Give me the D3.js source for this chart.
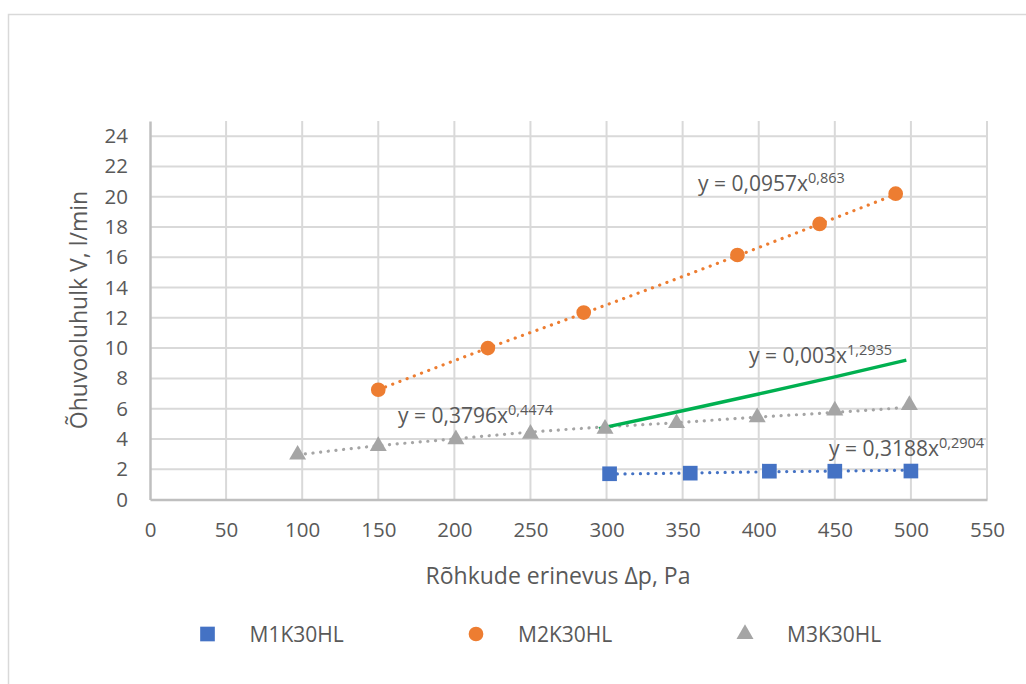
<!DOCTYPE html>
<html>
<head>
<meta charset="utf-8">
<script src="https://cdn.jsdelivr.net/npm/d3@7"></script>
<style>
	body { margin: 0; background: #fff; }
	svg text { font-family: "Open Sans", sans-serif; fill: #595959; }
</style>
</head>
<body>
<svg id="chart" width="1026" height="684"></svg>
<script>
// values
const seriesNames = ['M1K30HL', 'M2K30HL', 'M3K30HL']

const m1X = [302, 355, 407, 450, 500]
const m1Y = [1.7, 1.74, 1.87, 1.87, 1.88]

const m2X = [150, 222, 285, 386, 440, 490]
const m2Y = [7.25, 10.0, 12.35, 16.15, 18.2, 20.2]

const m3X = [97, 150, 201, 250, 299, 346, 399, 450, 499]
const m3Y = [2.96, 3.53, 3.97, 4.34, 4.67, 5.04, 5.43, 5.87, 6.24]

// dotted trend lines
const m1TrendX = [302, 355, 407, 450, 500]
const m1TrendY = [1.68, 1.75, 1.83, 1.88, 1.94]
const m2TrendX = [150, 222, 285, 386, 440, 490]
const m2TrendY = [7.25, 10.0, 12.3, 16.1, 18.2, 20.15]
const m3TrendX = [97, 150, 200, 250, 300, 350, 400, 450, 500]
const m3TrendY = [2.95, 3.55, 4.0, 4.45, 4.8, 5.1, 5.45, 5.75, 6.1]

// solid green curve
const greenX = [295, 350, 400, 450, 497]
const greenY = [4.68, 5.86, 6.97, 8.1, 9.2]

const equations = [
	{ base: 'y = 0,3188x', exp: '0,2904', x: 829, y: 456 },
	{ base: 'y = 0,0957x', exp: '0,863', x: 698, y: 191 },
	{ base: 'y = 0,3796x', exp: '0,4474', x: 398, y: 423 },
	{ base: 'y = 0,003x', exp: '1,2935', x: 749, y: 363 }
]

const xTicks = d3.range(0, 551, 50)
const yTicks = d3.range(0, 25, 2)

const colors = ['#4472c4', '#ed7d31', '#a5a5a5']
const gridColor = '#d9d9d9'

const svg = d3.select('#chart')
const plotL = 150, plotR = 987, plotT = 121, plotB = 499.5

const x = d3.scaleLinear().domain([0, 550]).range([plotL, plotR])
const y = d3.scaleLinear().domain([0, 25]).range([plotB, plotT])

// outer chart border (runs off the right and bottom edge)
svg.append('rect')
	.attr('x', 8.5).attr('y', 14.5)
	.attr('width', 1040).attr('height', 700)
	.attr('fill', '#fff')
	.attr('stroke', gridColor)
	.attr('stroke-width', 1.5)

// gridlines
svg.append('g')
	.selectAll('line')
	.data(yTicks.filter(d => d > 0))
	.join('line')
	.attr('x1', plotL).attr('x2', plotR)
	.attr('y1', d => y(d)).attr('y2', d => y(d))
	.attr('stroke', gridColor).attr('stroke-width', 2)

svg.append('g')
	.selectAll('line')
	.data(xTicks.filter(d => d > 0))
	.join('line')
	.attr('x1', d => x(d)).attr('x2', d => x(d))
	.attr('y1', plotT).attr('y2', plotB)
	.attr('stroke', gridColor).attr('stroke-width', 2)

// axes
const xAxis = svg.append('g')
	.attr('transform', `translate(0,${plotB})`)
	.call(d3.axisBottom(x).tickValues(xTicks).tickSize(0).tickPadding(23))
const yAxis = svg.append('g')
	.attr('transform', `translate(${plotL},0)`)
	.call(d3.axisLeft(y).tickValues(yTicks).tickSize(0).tickPadding(22))

for (const ax of [xAxis, yAxis]) {
	ax.select('.domain').attr('stroke', '#bfbfbf').attr('stroke-width', 2.5)
	ax.selectAll('text').attr('font-size', 20.5).attr('fill', '#595959')
		.style('font-family', '"Open Sans", sans-serif')
}

// axis titles
svg.append('text')
	.attr('x', 558).attr('y', 584)
	.attr('text-anchor', 'middle')
	.attr('font-size', 23)
	.text('Rõhkude erinevus Δp, Pa')

svg.append('text')
	.attr('transform', 'translate(87,310) rotate(-90)')
	.attr('text-anchor', 'middle')
	.attr('font-size', 23)
	.text('Õhuvooluhulk V, l/min')

// lines
const line = d3.line().x(d => x(d[0])).y(d => y(d[1])).curve(d3.curveMonotoneX)
const zip = (a, b) => a.map((v, i) => [v, b[i]])

const trends = [zip(m1TrendX, m1TrendY), zip(m2TrendX, m2TrendY), zip(m3TrendX, m3TrendY)]

svg.append('g')
	.selectAll('path')
	.data(trends)
	.join('path')
	.attr('d', line)
	.attr('fill', 'none')
	.attr('stroke', (d, i) => colors[i])
	.attr('stroke-width', 3.2)
	.attr('stroke-linecap', 'round')
	.attr('stroke-dasharray', '0.1 7.6')

svg.append('path')
	.attr('d', line(zip(greenX, greenY)))
	.attr('fill', 'none')
	.attr('stroke', '#00b050')
	.attr('stroke-width', 3.4)

// markers
const symbols = [d3.symbolSquare, d3.symbolCircle, d3.symbolTriangle]
const sizes = [215, 170, 125]
const seriesData = [zip(m1X, m1Y), zip(m2X, m2Y), zip(m3X, m3Y)]

seriesData.forEach((pts, i) => {
	svg.append('g')
		.selectAll('path')
		.data(pts)
		.join('path')
		.attr('transform', d => `translate(${x(d[0])},${y(d[1])})`)
		.attr('d', d3.symbol().type(symbols[i]).size(sizes[i]))
		.attr('fill', colors[i])
})

// trend equations
const eq = svg.append('g')
	.selectAll('text')
	.data(equations)
	.join('text')
	.attr('x', d => d.x).attr('y', d => d.y)
	.attr('font-size', 21)
eq.append('tspan').text(d => d.base)
eq.append('tspan')
	.attr('font-size', 14.5)
	.attr('dy', -8)
	.text(d => d.exp)

// legend
const legendX = [207.5, 476, 745]
const legend = svg.append('g')
	.selectAll('g')
	.data(seriesNames)
	.join('g')
	.attr('transform', (d, i) => `translate(${legendX[i]},634)`)
legend.append('path')
	.attr('d', (d, i) => d3.symbol().type(symbols[i]).size(sizes[i])())
	.attr('fill', (d, i) => colors[i])
legend.append('text')
	.attr('x', 42).attr('y', 7.5)
	.attr('font-size', 21)
	.text(d => d)
</script>
</body>
</html>
